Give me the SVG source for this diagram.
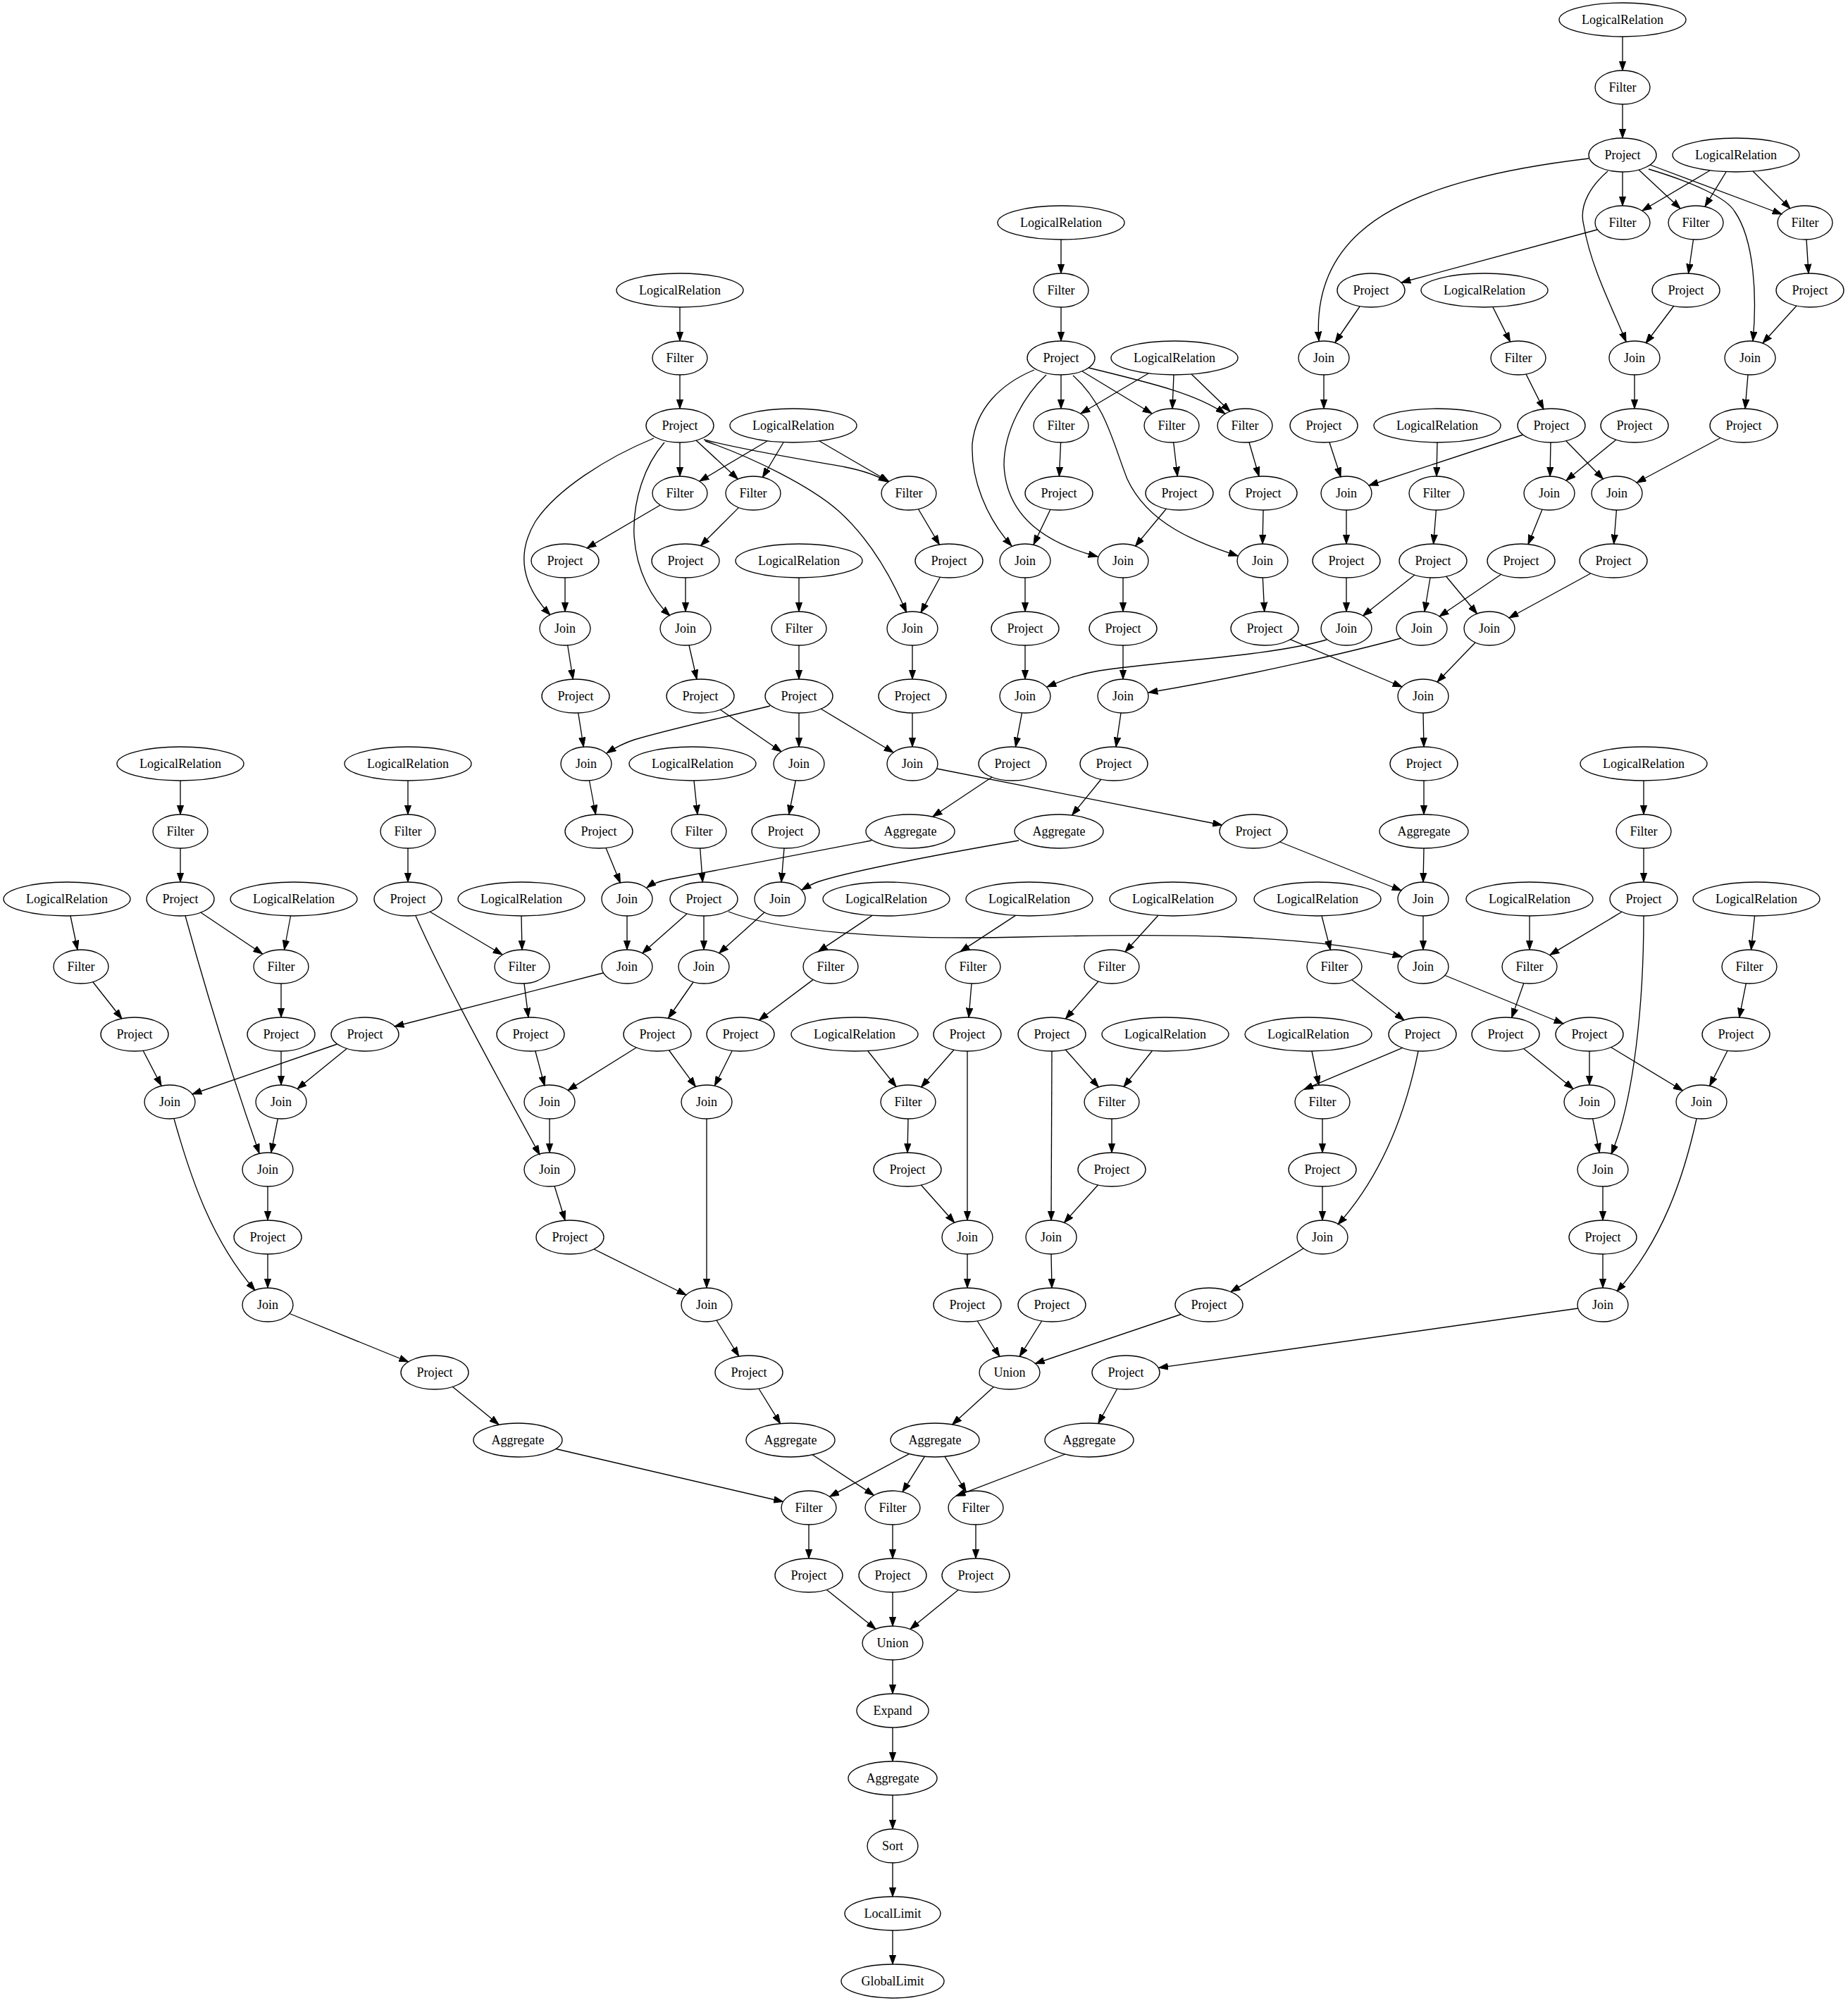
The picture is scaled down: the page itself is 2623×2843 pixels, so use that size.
<svg xmlns="http://www.w3.org/2000/svg" width="2623" height="2843" viewBox="0 0 2623 2843">
<style>
.n ellipse{fill:none;stroke:#000;stroke-width:1.33}
.n text{font-family:"Liberation Serif","Times New Roman",serif;font-size:18px;text-anchor:middle;fill:#000}
.e path{fill:none;stroke:#000;stroke-width:1.33;marker-end:url(#ah)}
</style>
<defs>
<marker id="ah" markerUnits="userSpaceOnUse" markerWidth="14" markerHeight="10" viewBox="0 0 14 10" refX="13.3" refY="5" orient="auto"><path d="M0,0.3 L13.3,5 L0,9.7 Z" fill="#000" stroke="#000" stroke-width="1"/></marker>
</defs>
<rect width="2623" height="2843" fill="#fff"/>
<g id="edges" class="e">
<path d="M2303,52 L2303,100"/>
<path d="M2303,148 L2303,196"/>
<path d="M2303,244 L2303,292"/>
<path d="M2326,241 L2385,296"/>
<path d="M2342,234 L2529,304"/>
<path d="M2427,242 L2331,299"/>
<path d="M2450,244 L2420,293"/>
<path d="M2488,243 L2541,296"/>
<path d="M2255,225 C2110,242 1990,275 1930,330 C1880,375 1868,430 1872,484"/>
<path d="M2282,243 C2260,262 2240,290 2248,320 C2258,380 2290,440 2308,485"/>
<path d="M2340,240 C2400,258 2450,280 2462,300 C2490,340 2494,420 2488,484"/>
<path d="M2267,326 L1989,401"/>
<path d="M2403.5,340 L2396.5,388"/>
<path d="M2564,340 L2567,388"/>
<path d="M1930,435 L1895,486"/>
<path d="M2119,436 L2143.5,485"/>
<path d="M2376,434 L2336,487"/>
<path d="M2550,434 L2502,487"/>
<path d="M1879,532 L1879,580"/>
<path d="M2166,531 L2191,581"/>
<path d="M2320,532 L2320,580"/>
<path d="M2481,532 L2477,580"/>
<path d="M1887,628 L1903,677"/>
<path d="M2040,628 L2039,676"/>
<path d="M2162,617 L1943,689"/>
<path d="M2201,628 L2200,676"/>
<path d="M2223,626 L2275.5,680"/>
<path d="M2294,624 L2223,682"/>
<path d="M2442,621.5 L2323,685"/>
<path d="M1911,724 L1911,772"/>
<path d="M2038.4,724 L2034.6,772"/>
<path d="M2189,723 L2169,772.5"/>
<path d="M2294.4,724 L2290.6,772"/>
<path d="M1911,820 L1911,868"/>
<path d="M2008,816 L1934.5,874"/>
<path d="M2030,820 L2022,868"/>
<path d="M2052.5,818 L2096.5,871"/>
<path d="M2131,815 L2043,875"/>
<path d="M2257.6,814 L2142,877"/>
<path d="M1883,908 C1800,932 1650,938 1560,952 C1530,957 1510,965 1486,975"/>
<path d="M1988,906 C1930,922 1780,958 1630,983"/>
<path d="M2094,912 L2040,968"/>
<path d="M1831.5,907.6 L1990,975"/>
<path d="M2020,1012 L2021,1060"/>
<path d="M2021,1108 L2021,1156"/>
<path d="M2021,1204 L2020,1252"/>
<path d="M1816.5,1195 L1989,1264"/>
<path d="M2020,1300 L2020,1348"/>
<path d="M1034,1294 C1100,1320 1250,1335 1450,1330 C1650,1325 1850,1325 1990,1358"/>
<path d="M2051,1384.5 L2219,1453"/>
<path d="M1506,340 L1506,388"/>
<path d="M1506,436 L1506,484"/>
<path d="M1506,532 L1506,580"/>
<path d="M1536,527 L1635,587"/>
<path d="M1545,522 C1640,545 1700,560 1739,587.5"/>
<path d="M1630,530 L1534,587"/>
<path d="M1666,532 L1664,580"/>
<path d="M1691,531 L1746,584"/>
<path d="M1468,525 C1420,545 1385,580 1380,630 C1378,680 1400,735 1436,775"/>
<path d="M1485,532 C1455,560 1425,610 1425,660 C1428,730 1480,770 1558,790"/>
<path d="M1523,533 C1570,575 1580,630 1600,680 C1630,745 1700,770 1757,789"/>
<path d="M1505.6,628 L1503.4,676"/>
<path d="M1665.7,628 L1671.3,676"/>
<path d="M1773,628 L1787,676"/>
<path d="M1491,723 L1467,773"/>
<path d="M1655.5,722 L1611.5,775"/>
<path d="M1793,724 L1792,772"/>
<path d="M1455,820 L1455,868"/>
<path d="M1594,820 L1594,868"/>
<path d="M1792.3,820 L1794.7,868"/>
<path d="M1455,916 L1455,964"/>
<path d="M1594,916 L1594,964"/>
<path d="M1450.5,1012 L1441.5,1060"/>
<path d="M1591,1012 L1584,1060"/>
<path d="M1408,1103 L1324,1159"/>
<path d="M1563,1106 L1521.6,1157"/>
<path d="M965,436 L965,484"/>
<path d="M965,532 L965,580"/>
<path d="M965,628 L965,676"/>
<path d="M988,625 L1047.4,680"/>
<path d="M999,624 C1060,640 1140,652 1200,663 C1225,668 1245,675 1260,684"/>
<path d="M1089,626 L993,683"/>
<path d="M1112,628 L1082.4,677.5"/>
<path d="M1163,626 L1261.7,683.5"/>
<path d="M928,622 C860,650 790,695 760,740 C730,790 745,835 781,873"/>
<path d="M943,628 C915,660 898,710 900,760 C903,810 925,850 951,874"/>
<path d="M1001,626 C1070,650 1150,690 1190,725 C1240,770 1270,830 1286.5,869"/>
<path d="M937,717 L833,778"/>
<path d="M1048.6,720.4 L994.5,774.5"/>
<path d="M1303.4,722.5 L1333.3,773"/>
<path d="M802,820 L802,868"/>
<path d="M973,820 L973,868"/>
<path d="M1334.5,819 L1307,869.4"/>
<path d="M1134,820 L1134,868"/>
<path d="M1134,916 L1134,964"/>
<path d="M805.7,916 L813.3,964"/>
<path d="M978,916 L989,964"/>
<path d="M1295,916 L1295,964"/>
<path d="M1093,1002 C1020,1020 950,1035 900,1050 C885,1055 872,1062 861,1069"/>
<path d="M1134,1012 L1134,1060"/>
<path d="M1165,1006 L1268,1068"/>
<path d="M820.7,1012 L828.3,1060"/>
<path d="M1022,1007 L1109,1067"/>
<path d="M1295,1012 L1295,1060"/>
<path d="M836.5,1108 L845.5,1156"/>
<path d="M1129.3,1108 L1119.7,1156"/>
<path d="M1329.5,1091 L1734.4,1171"/>
<path d="M985,1108 L990,1156"/>
<path d="M860,1203.5 L880.4,1253"/>
<path d="M1237,1193 C1120,1215 1000,1238 950,1248 C935,1251 925,1255 918,1260"/>
<path d="M993.7,1204 L997.3,1252"/>
<path d="M1113,1204 L1109,1252"/>
<path d="M1446,1193 C1330,1213 1200,1238 1160,1252 C1152,1255 1145,1259 1138,1263"/>
<path d="M890,1300 L890,1348"/>
<path d="M975,1297 L911.7,1353"/>
<path d="M999,1300 L999,1348"/>
<path d="M1085,1295 L1020.6,1353"/>
<path d="M856,1381 L560,1457"/>
<path d="M984,1394 L948.6,1445"/>
<path d="M256,1108 L256,1156"/>
<path d="M256,1204 L256,1252"/>
<path d="M284.7,1295 L372.6,1354"/>
<path d="M263,1300 C285,1380 320,1500 368,1637"/>
<path d="M412.5,1300 L403.5,1348"/>
<path d="M399,1396 L399,1444"/>
<path d="M399,1492 L399,1540"/>
<path d="M478.5,1482 L273,1553"/>
<path d="M492.7,1488 L422,1545.5"/>
<path d="M100,1300 L110,1348"/>
<path d="M132,1394 L173,1446"/>
<path d="M203,1491 L229,1541"/>
<path d="M394.3,1588 L384.7,1636"/>
<path d="M380,1684 L380,1732"/>
<path d="M380,1780 L380,1828"/>
<path d="M247,1588 C270,1670 300,1760 362,1831.5"/>
<path d="M411,1864.5 L579.7,1933"/>
<path d="M642,1968 L708,2022"/>
<path d="M789,2056.5 L1111.5,2131.5"/>
<path d="M579,1108 L579,1156"/>
<path d="M579,1204 L579,1252"/>
<path d="M610,1294 L713,1355"/>
<path d="M590,1300 C625,1380 690,1500 766,1639"/>
<path d="M740,1300 L741,1348"/>
<path d="M744,1396 L750,1444"/>
<path d="M759.6,1491 L773,1541"/>
<path d="M903,1487 L806,1547.6"/>
<path d="M949.4,1490.5 L987.3,1542.4"/>
<path d="M1238,1299.4 L1161.4,1350.6"/>
<path d="M1154,1390.6 L1077.4,1448"/>
<path d="M1039.4,1491 L1014.4,1541"/>
<path d="M780,1588 L780,1636"/>
<path d="M787,1683.5 L802,1732"/>
<path d="M843,1773 L974,1838"/>
<path d="M1003,1588 L1003,1828"/>
<path d="M1017,1874 L1048.7,1925"/>
<path d="M1077,1971 L1107.6,2020.6"/>
<path d="M1153.4,2065 L1240.4,2122.4"/>
<path d="M1441.5,1299.4 L1363.2,1350.6"/>
<path d="M1379,1396 L1375,1444"/>
<path d="M1354,1490 L1307.5,1543"/>
<path d="M1373,1492 L1373,1732"/>
<path d="M1231.6,1491.5 L1272,1542.4"/>
<path d="M1289,1588 L1288,1636"/>
<path d="M1307.4,1682 L1354.7,1735.3"/>
<path d="M1373,1780 L1373,1828"/>
<path d="M1387.3,1875 L1418.8,1925.3"/>
<path d="M1644,1299.3 L1597,1351"/>
<path d="M1559,1393 L1512.4,1446"/>
<path d="M1512.4,1490 L1559.3,1543"/>
<path d="M1493,1492 L1492,1732"/>
<path d="M1635.4,1491.5 L1595,1542.4"/>
<path d="M1578,1588 L1578,1636"/>
<path d="M1558.4,1682 L1510.5,1735.4"/>
<path d="M1492,1780 L1493,1828"/>
<path d="M1478.7,1875 L1447.2,1925.3"/>
<path d="M1876,1300 L1888.4,1348.3"/>
<path d="M1918.8,1390.8 L1993,1448"/>
<path d="M1990.5,1487.3 L1850.7,1546.3"/>
<path d="M2013,1492 C1995,1580 1960,1670 1899,1738"/>
<path d="M1862,1492 L1872,1540"/>
<path d="M1877,1588 L1877,1636"/>
<path d="M1877,1684 L1877,1732"/>
<path d="M1850,1772 L1747,1833.6"/>
<path d="M1676.3,1865.5 L1469.2,1935.5"/>
<path d="M1410.4,1968.4 L1351.6,2022"/>
<path d="M1290.5,2063.6 L1177.6,2124.2"/>
<path d="M1312.4,2067.3 L1281,2117.6"/>
<path d="M1341,2067.4 L1371.3,2117.5"/>
<path d="M1512,2064 L1357,2123.3"/>
<path d="M2333,1108 L2333,1156"/>
<path d="M2333,1204 L2333,1252"/>
<path d="M2302,1294.3 L2199.9,1355.4"/>
<path d="M2333,1300 C2333,1420 2320,1560 2287,1638"/>
<path d="M2171,1300 L2171,1348"/>
<path d="M2162.8,1395.5 L2145.7,1444.4"/>
<path d="M2162.7,1488.4 L2233,1545.5"/>
<path d="M2256,1492 L2256,1540"/>
<path d="M2286.6,1486.5 L2388.3,1548"/>
<path d="M2490.5,1300 L2485.5,1348"/>
<path d="M2478.3,1395.8 L2468.7,1444.2"/>
<path d="M2452,1491.3 L2426.6,1541.3"/>
<path d="M2260.7,1588 L2270.3,1636"/>
<path d="M2275,1684 L2275,1732"/>
<path d="M2275,1780 L2275,1828"/>
<path d="M2408,1588 C2390,1670 2360,1760 2295,1833"/>
<path d="M2240,1857 L1644.7,1941.4"/>
<path d="M1585.8,1971 L1558.8,2020.5"/>
<path d="M1148,2164 L1148,2212"/>
<path d="M1267,2164 L1267,2212"/>
<path d="M1385,2164 L1385,2212"/>
<path d="M1173.4,2256.4 L1243,2312.3"/>
<path d="M1267,2260 L1267,2308"/>
<path d="M1360.4,2256.4 L1292,2312.2"/>
<path d="M1267,2356 L1267,2404"/>
<path d="M1267,2452 L1267,2500"/>
<path d="M1267,2548 L1267,2596"/>
<path d="M1267,2644 L1267,2692"/>
<path d="M1267,2740 L1267,2788"/>
</g>
<g id="n1" class="n"><ellipse cx="2303" cy="28" rx="90" ry="24"/><text x="2303" y="34">LogicalRelation</text></g>
<g id="n2" class="n"><ellipse cx="2303" cy="124" rx="39" ry="24"/><text x="2303" y="130">Filter</text></g>
<g id="n3" class="n"><ellipse cx="2303" cy="220" rx="48" ry="24"/><text x="2303" y="226">Project</text></g>
<g id="n4" class="n"><ellipse cx="2464" cy="220" rx="90" ry="24"/><text x="2464" y="226">LogicalRelation</text></g>
<g id="n5" class="n"><ellipse cx="2303" cy="316" rx="39" ry="24"/><text x="2303" y="322">Filter</text></g>
<g id="n6" class="n"><ellipse cx="2407" cy="316" rx="39" ry="24"/><text x="2407" y="322">Filter</text></g>
<g id="n7" class="n"><ellipse cx="2562" cy="316" rx="39" ry="24"/><text x="2562" y="322">Filter</text></g>
<g id="n8" class="n"><ellipse cx="1946" cy="412" rx="48" ry="24"/><text x="1946" y="418">Project</text></g>
<g id="n9" class="n"><ellipse cx="2107" cy="412" rx="90" ry="24"/><text x="2107" y="418">LogicalRelation</text></g>
<g id="n10" class="n"><ellipse cx="2393" cy="412" rx="48" ry="24"/><text x="2393" y="418">Project</text></g>
<g id="n11" class="n"><ellipse cx="2569" cy="412" rx="48" ry="24"/><text x="2569" y="418">Project</text></g>
<g id="n12" class="n"><ellipse cx="1879" cy="508" rx="36" ry="24"/><text x="1879" y="514">Join</text></g>
<g id="n13" class="n"><ellipse cx="2155" cy="508" rx="39" ry="24"/><text x="2155" y="514">Filter</text></g>
<g id="n14" class="n"><ellipse cx="2320" cy="508" rx="36" ry="24"/><text x="2320" y="514">Join</text></g>
<g id="n15" class="n"><ellipse cx="2484" cy="508" rx="36" ry="24"/><text x="2484" y="514">Join</text></g>
<g id="n16" class="n"><ellipse cx="1879" cy="604" rx="48" ry="24"/><text x="1879" y="610">Project</text></g>
<g id="n17" class="n"><ellipse cx="2040" cy="604" rx="90" ry="24"/><text x="2040" y="610">LogicalRelation</text></g>
<g id="n18" class="n"><ellipse cx="2202" cy="604" rx="48" ry="24"/><text x="2202" y="610">Project</text></g>
<g id="n19" class="n"><ellipse cx="2320" cy="604" rx="48" ry="24"/><text x="2320" y="610">Project</text></g>
<g id="n20" class="n"><ellipse cx="2475" cy="604" rx="48" ry="24"/><text x="2475" y="610">Project</text></g>
<g id="n21" class="n"><ellipse cx="1911" cy="700" rx="36" ry="24"/><text x="1911" y="706">Join</text></g>
<g id="n22" class="n"><ellipse cx="2039" cy="700" rx="39" ry="24"/><text x="2039" y="706">Filter</text></g>
<g id="n23" class="n"><ellipse cx="2199" cy="700" rx="36" ry="24"/><text x="2199" y="706">Join</text></g>
<g id="n24" class="n"><ellipse cx="2295" cy="700" rx="36" ry="24"/><text x="2295" y="706">Join</text></g>
<g id="n25" class="n"><ellipse cx="1911" cy="796" rx="48" ry="24"/><text x="1911" y="802">Project</text></g>
<g id="n26" class="n"><ellipse cx="2034" cy="796" rx="48" ry="24"/><text x="2034" y="802">Project</text></g>
<g id="n27" class="n"><ellipse cx="2159" cy="796" rx="48" ry="24"/><text x="2159" y="802">Project</text></g>
<g id="n28" class="n"><ellipse cx="2290" cy="796" rx="48" ry="24"/><text x="2290" y="802">Project</text></g>
<g id="n29" class="n"><ellipse cx="1911" cy="892" rx="36" ry="24"/><text x="1911" y="898">Join</text></g>
<g id="n30" class="n"><ellipse cx="2018" cy="892" rx="36" ry="24"/><text x="2018" y="898">Join</text></g>
<g id="n31" class="n"><ellipse cx="2114" cy="892" rx="36" ry="24"/><text x="2114" y="898">Join</text></g>
<g id="n32" class="n"><ellipse cx="2020" cy="988" rx="36" ry="24"/><text x="2020" y="994">Join</text></g>
<g id="n33" class="n"><ellipse cx="2021" cy="1084" rx="48" ry="24"/><text x="2021" y="1090">Project</text></g>
<g id="n34" class="n"><ellipse cx="2021" cy="1180" rx="63" ry="24"/><text x="2021" y="1186">Aggregate</text></g>
<g id="n35" class="n"><ellipse cx="2020" cy="1276" rx="36" ry="24"/><text x="2020" y="1282">Join</text></g>
<g id="n36" class="n"><ellipse cx="2020" cy="1372" rx="36" ry="24"/><text x="2020" y="1378">Join</text></g>
<g id="m1" class="n"><ellipse cx="1506" cy="316" rx="90" ry="24"/><text x="1506" y="322">LogicalRelation</text></g>
<g id="m2" class="n"><ellipse cx="1506" cy="412" rx="39" ry="24"/><text x="1506" y="418">Filter</text></g>
<g id="m3" class="n"><ellipse cx="1506" cy="508" rx="48" ry="24"/><text x="1506" y="514">Project</text></g>
<g id="m4" class="n"><ellipse cx="1667" cy="508" rx="90" ry="24"/><text x="1667" y="514">LogicalRelation</text></g>
<g id="m5" class="n"><ellipse cx="1506" cy="604" rx="39" ry="24"/><text x="1506" y="610">Filter</text></g>
<g id="m6" class="n"><ellipse cx="1663" cy="604" rx="39" ry="24"/><text x="1663" y="610">Filter</text></g>
<g id="m7" class="n"><ellipse cx="1767" cy="604" rx="39" ry="24"/><text x="1767" y="610">Filter</text></g>
<g id="m8" class="n"><ellipse cx="1503" cy="700" rx="48" ry="24"/><text x="1503" y="706">Project</text></g>
<g id="m9" class="n"><ellipse cx="1674" cy="700" rx="48" ry="24"/><text x="1674" y="706">Project</text></g>
<g id="m10" class="n"><ellipse cx="1793" cy="700" rx="48" ry="24"/><text x="1793" y="706">Project</text></g>
<g id="m11" class="n"><ellipse cx="1455" cy="796" rx="36" ry="24"/><text x="1455" y="802">Join</text></g>
<g id="m12" class="n"><ellipse cx="1594" cy="796" rx="36" ry="24"/><text x="1594" y="802">Join</text></g>
<g id="m13" class="n"><ellipse cx="1792" cy="796" rx="36" ry="24"/><text x="1792" y="802">Join</text></g>
<g id="m14" class="n"><ellipse cx="1455" cy="892" rx="48" ry="24"/><text x="1455" y="898">Project</text></g>
<g id="m15" class="n"><ellipse cx="1594" cy="892" rx="48" ry="24"/><text x="1594" y="898">Project</text></g>
<g id="m16" class="n"><ellipse cx="1795" cy="892" rx="48" ry="24"/><text x="1795" y="898">Project</text></g>
<g id="m17" class="n"><ellipse cx="1455" cy="988" rx="36" ry="24"/><text x="1455" y="994">Join</text></g>
<g id="m18" class="n"><ellipse cx="1594" cy="988" rx="36" ry="24"/><text x="1594" y="994">Join</text></g>
<g id="m19" class="n"><ellipse cx="1437" cy="1084" rx="48" ry="24"/><text x="1437" y="1090">Project</text></g>
<g id="m20" class="n"><ellipse cx="1581" cy="1084" rx="48" ry="24"/><text x="1581" y="1090">Project</text></g>
<g id="l1" class="n"><ellipse cx="965" cy="412" rx="90" ry="24"/><text x="965" y="418">LogicalRelation</text></g>
<g id="l2" class="n"><ellipse cx="965" cy="508" rx="39" ry="24"/><text x="965" y="514">Filter</text></g>
<g id="l3" class="n"><ellipse cx="965" cy="604" rx="48" ry="24"/><text x="965" y="610">Project</text></g>
<g id="l4" class="n"><ellipse cx="1126" cy="604" rx="90" ry="24"/><text x="1126" y="610">LogicalRelation</text></g>
<g id="l5" class="n"><ellipse cx="965" cy="700" rx="39" ry="24"/><text x="965" y="706">Filter</text></g>
<g id="l6" class="n"><ellipse cx="1069" cy="700" rx="39" ry="24"/><text x="1069" y="706">Filter</text></g>
<g id="l7" class="n"><ellipse cx="1290" cy="700" rx="39" ry="24"/><text x="1290" y="706">Filter</text></g>
<g id="l8" class="n"><ellipse cx="802" cy="796" rx="48" ry="24"/><text x="802" y="802">Project</text></g>
<g id="l9" class="n"><ellipse cx="973" cy="796" rx="48" ry="24"/><text x="973" y="802">Project</text></g>
<g id="l10" class="n"><ellipse cx="1134" cy="796" rx="90" ry="24"/><text x="1134" y="802">LogicalRelation</text></g>
<g id="l11" class="n"><ellipse cx="1347" cy="796" rx="48" ry="24"/><text x="1347" y="802">Project</text></g>
<g id="l12" class="n"><ellipse cx="802" cy="892" rx="36" ry="24"/><text x="802" y="898">Join</text></g>
<g id="l13" class="n"><ellipse cx="973" cy="892" rx="36" ry="24"/><text x="973" y="898">Join</text></g>
<g id="l14" class="n"><ellipse cx="1134" cy="892" rx="39" ry="24"/><text x="1134" y="898">Filter</text></g>
<g id="l15" class="n"><ellipse cx="1295" cy="892" rx="36" ry="24"/><text x="1295" y="898">Join</text></g>
<g id="l16" class="n"><ellipse cx="817" cy="988" rx="48" ry="24"/><text x="817" y="994">Project</text></g>
<g id="l17" class="n"><ellipse cx="994" cy="988" rx="48" ry="24"/><text x="994" y="994">Project</text></g>
<g id="l18" class="n"><ellipse cx="1134" cy="988" rx="48" ry="24"/><text x="1134" y="994">Project</text></g>
<g id="l19" class="n"><ellipse cx="1295" cy="988" rx="48" ry="24"/><text x="1295" y="994">Project</text></g>
<g id="l20" class="n"><ellipse cx="832" cy="1084" rx="36" ry="24"/><text x="832" y="1090">Join</text></g>
<g id="l21" class="n"><ellipse cx="1134" cy="1084" rx="36" ry="24"/><text x="1134" y="1090">Join</text></g>
<g id="l22" class="n"><ellipse cx="1295" cy="1084" rx="36" ry="24"/><text x="1295" y="1090">Join</text></g>
<g id="l23" class="n"><ellipse cx="983" cy="1084" rx="90" ry="24"/><text x="983" y="1090">LogicalRelation</text></g>
<g id="l24" class="n"><ellipse cx="850" cy="1180" rx="48" ry="24"/><text x="850" y="1186">Project</text></g>
<g id="l25" class="n"><ellipse cx="992" cy="1180" rx="39" ry="24"/><text x="992" y="1186">Filter</text></g>
<g id="l26" class="n"><ellipse cx="1115" cy="1180" rx="48" ry="24"/><text x="1115" y="1186">Project</text></g>
<g id="l27" class="n"><ellipse cx="1292" cy="1180" rx="63" ry="24"/><text x="1292" y="1186">Aggregate</text></g>
<g id="l28" class="n"><ellipse cx="1503" cy="1180" rx="63" ry="24"/><text x="1503" y="1186">Aggregate</text></g>
<g id="l29" class="n"><ellipse cx="1779" cy="1180" rx="48" ry="24"/><text x="1779" y="1186">Project</text></g>
<g id="l30" class="n"><ellipse cx="890" cy="1276" rx="36" ry="24"/><text x="890" y="1282">Join</text></g>
<g id="l31" class="n"><ellipse cx="999" cy="1276" rx="48" ry="24"/><text x="999" y="1282">Project</text></g>
<g id="l32" class="n"><ellipse cx="1107" cy="1276" rx="36" ry="24"/><text x="1107" y="1282">Join</text></g>
<g id="l33" class="n"><ellipse cx="890" cy="1372" rx="36" ry="24"/><text x="890" y="1378">Join</text></g>
<g id="l34" class="n"><ellipse cx="999" cy="1372" rx="36" ry="24"/><text x="999" y="1378">Join</text></g>
<g id="a1" class="n"><ellipse cx="256" cy="1084" rx="90" ry="24"/><text x="256" y="1090">LogicalRelation</text></g>
<g id="a2" class="n"><ellipse cx="256" cy="1180" rx="39" ry="24"/><text x="256" y="1186">Filter</text></g>
<g id="a3" class="n"><ellipse cx="256" cy="1276" rx="48" ry="24"/><text x="256" y="1282">Project</text></g>
<g id="b1" class="n"><ellipse cx="579" cy="1084" rx="90" ry="24"/><text x="579" y="1090">LogicalRelation</text></g>
<g id="b2" class="n"><ellipse cx="579" cy="1180" rx="39" ry="24"/><text x="579" y="1186">Filter</text></g>
<g id="b3" class="n"><ellipse cx="579" cy="1276" rx="48" ry="24"/><text x="579" y="1282">Project</text></g>
<g id="c1" class="n"><ellipse cx="95" cy="1276" rx="90" ry="24"/><text x="95" y="1282">LogicalRelation</text></g>
<g id="c2" class="n"><ellipse cx="115" cy="1372" rx="39" ry="24"/><text x="115" y="1378">Filter</text></g>
<g id="c3" class="n"><ellipse cx="191" cy="1468" rx="48" ry="24"/><text x="191" y="1474">Project</text></g>
<g id="c4" class="n"><ellipse cx="241" cy="1564" rx="36" ry="24"/><text x="241" y="1570">Join</text></g>
<g id="d1" class="n"><ellipse cx="417" cy="1276" rx="90" ry="24"/><text x="417" y="1282">LogicalRelation</text></g>
<g id="d2" class="n"><ellipse cx="399" cy="1372" rx="39" ry="24"/><text x="399" y="1378">Filter</text></g>
<g id="d3" class="n"><ellipse cx="399" cy="1468" rx="48" ry="24"/><text x="399" y="1474">Project</text></g>
<g id="d4" class="n"><ellipse cx="399" cy="1564" rx="36" ry="24"/><text x="399" y="1570">Join</text></g>
<g id="e1" class="n"><ellipse cx="518" cy="1468" rx="48" ry="24"/><text x="518" y="1474">Project</text></g>
<g id="f1" class="n"><ellipse cx="380" cy="1660" rx="36" ry="24"/><text x="380" y="1666">Join</text></g>
<g id="f2" class="n"><ellipse cx="380" cy="1756" rx="48" ry="24"/><text x="380" y="1762">Project</text></g>
<g id="f3" class="n"><ellipse cx="380" cy="1852" rx="36" ry="24"/><text x="380" y="1858">Join</text></g>
<g id="f4" class="n"><ellipse cx="617" cy="1948" rx="48" ry="24"/><text x="617" y="1954">Project</text></g>
<g id="f5" class="n"><ellipse cx="735" cy="2044" rx="63" ry="24"/><text x="735" y="2050">Aggregate</text></g>
<g id="g1" class="n"><ellipse cx="740" cy="1276" rx="90" ry="24"/><text x="740" y="1282">LogicalRelation</text></g>
<g id="g2" class="n"><ellipse cx="741" cy="1372" rx="39" ry="24"/><text x="741" y="1378">Filter</text></g>
<g id="g3" class="n"><ellipse cx="753" cy="1468" rx="48" ry="24"/><text x="753" y="1474">Project</text></g>
<g id="g4" class="n"><ellipse cx="780" cy="1564" rx="36" ry="24"/><text x="780" y="1570">Join</text></g>
<g id="g5" class="n"><ellipse cx="780" cy="1660" rx="36" ry="24"/><text x="780" y="1666">Join</text></g>
<g id="g6" class="n"><ellipse cx="809" cy="1756" rx="48" ry="24"/><text x="809" y="1762">Project</text></g>
<g id="h1" class="n"><ellipse cx="933" cy="1468" rx="48" ry="24"/><text x="933" y="1474">Project</text></g>
<g id="h2" class="n"><ellipse cx="1003" cy="1564" rx="36" ry="24"/><text x="1003" y="1570">Join</text></g>
<g id="h3" class="n"><ellipse cx="1003" cy="1852" rx="36" ry="24"/><text x="1003" y="1858">Join</text></g>
<g id="h4" class="n"><ellipse cx="1063" cy="1948" rx="48" ry="24"/><text x="1063" y="1954">Project</text></g>
<g id="h5" class="n"><ellipse cx="1122" cy="2044" rx="63" ry="24"/><text x="1122" y="2050">Aggregate</text></g>
<g id="i1" class="n"><ellipse cx="1258" cy="1276" rx="90" ry="24"/><text x="1258" y="1282">LogicalRelation</text></g>
<g id="i2" class="n"><ellipse cx="1179" cy="1372" rx="39" ry="24"/><text x="1179" y="1378">Filter</text></g>
<g id="i3" class="n"><ellipse cx="1051" cy="1468" rx="48" ry="24"/><text x="1051" y="1474">Project</text></g>
<g id="p1" class="n"><ellipse cx="1461" cy="1276" rx="90" ry="24"/><text x="1461" y="1282">LogicalRelation</text></g>
<g id="p2" class="n"><ellipse cx="1381" cy="1372" rx="39" ry="24"/><text x="1381" y="1378">Filter</text></g>
<g id="p3" class="n"><ellipse cx="1373" cy="1468" rx="48" ry="24"/><text x="1373" y="1474">Project</text></g>
<g id="p4" class="n"><ellipse cx="1213" cy="1468" rx="90" ry="24"/><text x="1213" y="1474">LogicalRelation</text></g>
<g id="p5" class="n"><ellipse cx="1289" cy="1564" rx="39" ry="24"/><text x="1289" y="1570">Filter</text></g>
<g id="p6" class="n"><ellipse cx="1288" cy="1660" rx="48" ry="24"/><text x="1288" y="1666">Project</text></g>
<g id="p7" class="n"><ellipse cx="1373" cy="1756" rx="36" ry="24"/><text x="1373" y="1762">Join</text></g>
<g id="p8" class="n"><ellipse cx="1373" cy="1852" rx="48" ry="24"/><text x="1373" y="1858">Project</text></g>
<g id="q1" class="n"><ellipse cx="1665" cy="1276" rx="90" ry="24"/><text x="1665" y="1282">LogicalRelation</text></g>
<g id="q2" class="n"><ellipse cx="1578" cy="1372" rx="39" ry="24"/><text x="1578" y="1378">Filter</text></g>
<g id="q3" class="n"><ellipse cx="1493" cy="1468" rx="48" ry="24"/><text x="1493" y="1474">Project</text></g>
<g id="q4" class="n"><ellipse cx="1654" cy="1468" rx="90" ry="24"/><text x="1654" y="1474">LogicalRelation</text></g>
<g id="q5" class="n"><ellipse cx="1578" cy="1564" rx="39" ry="24"/><text x="1578" y="1570">Filter</text></g>
<g id="q6" class="n"><ellipse cx="1578" cy="1660" rx="48" ry="24"/><text x="1578" y="1666">Project</text></g>
<g id="q7" class="n"><ellipse cx="1492" cy="1756" rx="36" ry="24"/><text x="1492" y="1762">Join</text></g>
<g id="q8" class="n"><ellipse cx="1493" cy="1852" rx="48" ry="24"/><text x="1493" y="1858">Project</text></g>
<g id="s1" class="n"><ellipse cx="1870" cy="1276" rx="90" ry="24"/><text x="1870" y="1282">LogicalRelation</text></g>
<g id="s2" class="n"><ellipse cx="1894" cy="1372" rx="39" ry="24"/><text x="1894" y="1378">Filter</text></g>
<g id="s3" class="n"><ellipse cx="2019" cy="1468" rx="48" ry="24"/><text x="2019" y="1474">Project</text></g>
<g id="s4" class="n"><ellipse cx="1857" cy="1468" rx="90" ry="24"/><text x="1857" y="1474">LogicalRelation</text></g>
<g id="s5" class="n"><ellipse cx="1877" cy="1564" rx="39" ry="24"/><text x="1877" y="1570">Filter</text></g>
<g id="s6" class="n"><ellipse cx="1877" cy="1660" rx="48" ry="24"/><text x="1877" y="1666">Project</text></g>
<g id="s7" class="n"><ellipse cx="1877" cy="1756" rx="36" ry="24"/><text x="1877" y="1762">Join</text></g>
<g id="s8" class="n"><ellipse cx="1716" cy="1852" rx="48" ry="24"/><text x="1716" y="1858">Project</text></g>
<g id="u1" class="n"><ellipse cx="1433" cy="1948" rx="43" ry="24"/><text x="1433" y="1954">Union</text></g>
<g id="u2" class="n"><ellipse cx="1327" cy="2044" rx="63" ry="24"/><text x="1327" y="2050">Aggregate</text></g>
<g id="t1" class="n"><ellipse cx="2333" cy="1084" rx="90" ry="24"/><text x="2333" y="1090">LogicalRelation</text></g>
<g id="t2" class="n"><ellipse cx="2333" cy="1180" rx="39" ry="24"/><text x="2333" y="1186">Filter</text></g>
<g id="t3" class="n"><ellipse cx="2333" cy="1276" rx="48" ry="24"/><text x="2333" y="1282">Project</text></g>
<g id="t4" class="n"><ellipse cx="2171" cy="1276" rx="90" ry="24"/><text x="2171" y="1282">LogicalRelation</text></g>
<g id="t5" class="n"><ellipse cx="2171" cy="1372" rx="39" ry="24"/><text x="2171" y="1378">Filter</text></g>
<g id="t6" class="n"><ellipse cx="2137" cy="1468" rx="48" ry="24"/><text x="2137" y="1474">Project</text></g>
<g id="t8" class="n"><ellipse cx="2256" cy="1468" rx="48" ry="24"/><text x="2256" y="1474">Project</text></g>
<g id="t9" class="n"><ellipse cx="2493" cy="1276" rx="90" ry="24"/><text x="2493" y="1282">LogicalRelation</text></g>
<g id="t10" class="n"><ellipse cx="2483" cy="1372" rx="39" ry="24"/><text x="2483" y="1378">Filter</text></g>
<g id="t11" class="n"><ellipse cx="2464" cy="1468" rx="48" ry="24"/><text x="2464" y="1474">Project</text></g>
<g id="t7" class="n"><ellipse cx="2256" cy="1564" rx="36" ry="24"/><text x="2256" y="1570">Join</text></g>
<g id="t12" class="n"><ellipse cx="2415" cy="1564" rx="36" ry="24"/><text x="2415" y="1570">Join</text></g>
<g id="t13" class="n"><ellipse cx="2275" cy="1660" rx="36" ry="24"/><text x="2275" y="1666">Join</text></g>
<g id="t14" class="n"><ellipse cx="2275" cy="1756" rx="48" ry="24"/><text x="2275" y="1762">Project</text></g>
<g id="t15" class="n"><ellipse cx="2275" cy="1852" rx="36" ry="24"/><text x="2275" y="1858">Join</text></g>
<g id="t16" class="n"><ellipse cx="1598" cy="1948" rx="48" ry="24"/><text x="1598" y="1954">Project</text></g>
<g id="t17" class="n"><ellipse cx="1546" cy="2044" rx="63" ry="24"/><text x="1546" y="2050">Aggregate</text></g>
<g id="v1" class="n"><ellipse cx="1148" cy="2140" rx="39" ry="24"/><text x="1148" y="2146">Filter</text></g>
<g id="v2" class="n"><ellipse cx="1267" cy="2140" rx="39" ry="24"/><text x="1267" y="2146">Filter</text></g>
<g id="v3" class="n"><ellipse cx="1385" cy="2140" rx="39" ry="24"/><text x="1385" y="2146">Filter</text></g>
<g id="v4" class="n"><ellipse cx="1148" cy="2236" rx="48" ry="24"/><text x="1148" y="2242">Project</text></g>
<g id="v5" class="n"><ellipse cx="1267" cy="2236" rx="48" ry="24"/><text x="1267" y="2242">Project</text></g>
<g id="v6" class="n"><ellipse cx="1385" cy="2236" rx="48" ry="24"/><text x="1385" y="2242">Project</text></g>
<g id="v7" class="n"><ellipse cx="1267" cy="2332" rx="43" ry="24"/><text x="1267" y="2338">Union</text></g>
<g id="v8" class="n"><ellipse cx="1267" cy="2428" rx="51" ry="24"/><text x="1267" y="2434">Expand</text></g>
<g id="v9" class="n"><ellipse cx="1267" cy="2524" rx="63" ry="24"/><text x="1267" y="2530">Aggregate</text></g>
<g id="v10" class="n"><ellipse cx="1267" cy="2620" rx="36" ry="24"/><text x="1267" y="2626">Sort</text></g>
<g id="v11" class="n"><ellipse cx="1267" cy="2716" rx="68" ry="24"/><text x="1267" y="2722">LocalLimit</text></g>
<g id="v12" class="n"><ellipse cx="1267" cy="2812" rx="73" ry="24"/><text x="1267" y="2818">GlobalLimit</text></g>
</svg>
